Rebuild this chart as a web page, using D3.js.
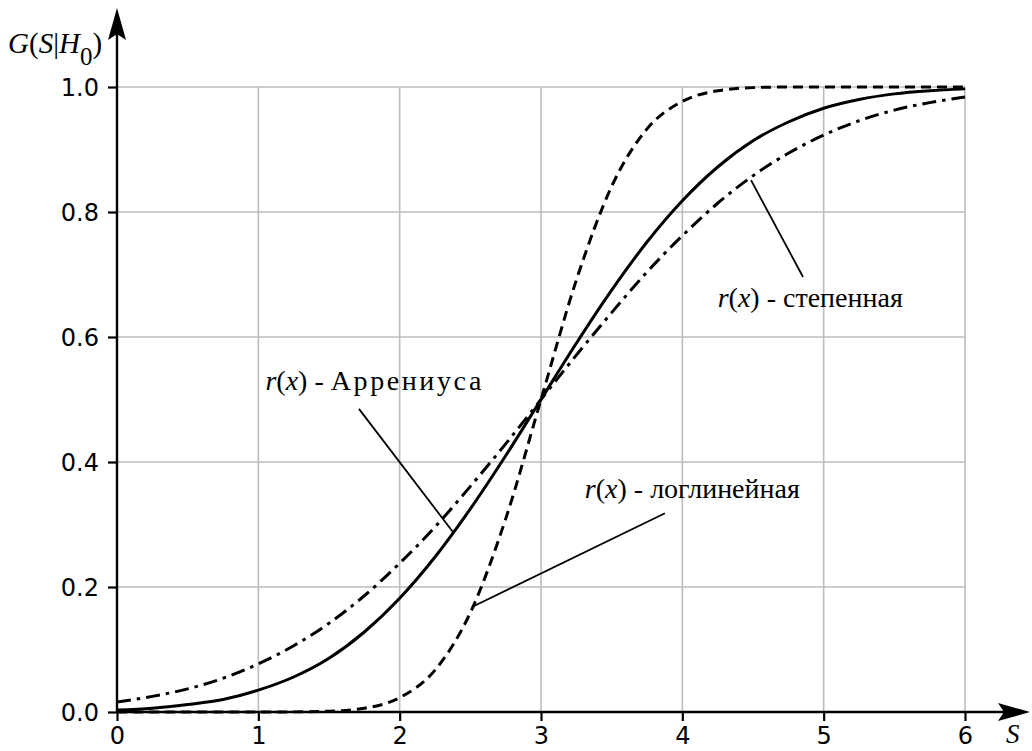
<!DOCTYPE html>
<html>
<head>
<meta charset="utf-8">
<script src="https://cdn.jsdelivr.net/npm/d3@7"></script>
<style>
  html, body { margin: 0; padding: 0; background: #fff; }
  svg { display: block; }
</style>
</head>
<body>
<svg id="chart" width="1032" height="751"></svg>
<script>
// ---- data ----
const sValues = [0, 0.25, 0.5, 0.75, 1, 1.25, 1.5, 1.75, 2, 2.25, 2.5, 2.75, 3,
                 3.25, 3.5, 3.75, 4, 4.25, 4.5, 4.75, 5, 5.25, 5.5, 5.75, 6];
// r(x) - Аррениуса (solid)
const arrhenius = [0.003, 0.006, 0.012, 0.020, 0.035, 0.056, 0.086, 0.128, 0.182, 0.248, 0.325, 0.410, 0.5,
                   0.590, 0.675, 0.752, 0.818, 0.872, 0.914, 0.944, 0.966, 0.980, 0.989, 0.994, 0.997];
// r(x) - логлинейная (dashed)
const loglinear = [0, 0, 0, 0, 0, 0.0002, 0.0013, 0.006, 0.023, 0.067, 0.159, 0.309, 0.5,
                   0.691, 0.841, 0.933, 0.977, 0.994, 0.999, 1.0, 1.0, 1.0, 1.0, 1.0, 1.0];
// r(x) - степенная (dash-dot)
const power = [0.016, 0.025, 0.037, 0.054, 0.077, 0.106, 0.142, 0.186, 0.238, 0.296, 0.361, 0.429, 0.5,
               0.571, 0.639, 0.704, 0.762, 0.814, 0.858, 0.894, 0.923, 0.946, 0.963, 0.975, 0.984];
const xTicks = [0, 1, 2, 3, 4, 5, 6];
const yTicks = [0.0, 0.2, 0.4, 0.6, 0.8, 1.0];
// annotation: label text anchor and leader line (data coords)
const annotations = [
  { name: "степенная",  spacing: 0,   tx: 4.25, ty: 0.648, x1: 4.854, y1: 0.696, x2: 4.486, y2: 0.851 },
  { name: "Аррениуса",  spacing: 2.6, tx: 1.05, ty: 0.515, x1: 1.712, y1: 0.485, x2: 2.377, y2: 0.288 },
  { name: "логлинейная", spacing: 0,  tx: 3.31, ty: 0.343, x1: 3.877, y1: 0.318, x2: 2.512, y2: 0.168 }
];

// ---- layout ----
const svg = d3.select("#chart");
const x = d3.scaleLinear().domain([0, 6]).range([117, 965]);
const y = d3.scaleLinear().domain([0, 1]).range([712, 87]);
const axisEndX = 1030, axisEndY = 8;

// grid
const grid = svg.append("g").attr("stroke", "#bdbdbd").attr("stroke-width", 1.6);
grid.selectAll(".vg").data(xTicks.filter(d => d > 0)).enter().append("line")
  .attr("x1", d => x(d)).attr("x2", d => x(d)).attr("y1", y(0)).attr("y2", y(1));
grid.selectAll(".hg").data(yTicks.filter(d => d > 0)).enter().append("line")
  .attr("x1", x(0)).attr("x2", x(6)).attr("y1", d => y(d)).attr("y2", d => y(d));

// axes via d3
const xAxis = d3.axisBottom(x).tickValues(xTicks).tickFormat(d3.format("d")).tickSize(9).tickPadding(4);
const yAxis = d3.axisLeft(y).tickValues(yTicks).tickFormat(d3.format(".1f")).tickSize(9).tickPadding(9);
const gx = svg.append("g").attr("transform", `translate(0,${y(0)})`).call(xAxis);
const gy = svg.append("g").attr("transform", `translate(${x(0)},0)`).call(yAxis);
[gx, gy].forEach(g => {
  g.select(".domain").remove();
  g.selectAll(".tick line").attr("stroke", "#000").attr("stroke-width", 2.2);
  g.selectAll(".tick text").attr("fill", "#000")
    .style("font-family", "'DejaVu Sans', sans-serif").style("font-size", "24px");
});
gx.selectAll(".tick text").attr("dy", "0.78em");
gy.selectAll(".tick text").attr("dy", "0.36em");

// axis lines with arrowheads
svg.append("line").attr("x1", x(0)).attr("x2", axisEndX - 10).attr("y1", y(0)).attr("y2", y(0))
  .attr("stroke", "#000").attr("stroke-width", 2.4);
svg.append("line").attr("x1", x(0)).attr("x2", x(0)).attr("y1", y(0)).attr("y2", axisEndY + 10)
  .attr("stroke", "#000").attr("stroke-width", 2.4);
// y arrow
svg.append("path").attr("fill", "#000")
  .attr("d", `M${x(0)},${axisEndY} L${x(0) + 9},${axisEndY + 32} L${x(0)},${axisEndY + 26} L${x(0) - 9},${axisEndY + 32} Z`);
// x arrow
svg.append("path").attr("fill", "#000")
  .attr("d", `M${axisEndX},${y(0)} L${axisEndX - 32},${y(0) - 9} L${axisEndX - 26},${y(0)} L${axisEndX - 32},${y(0) + 9} Z`);

// curves
const line = d3.line().x(d => x(d[0])).y(d => y(d[1])).curve(d3.curveMonotoneX);
const series = [
  { vals: arrhenius, dash: null },
  { vals: loglinear, dash: "10,6" },
  { vals: power, dash: "14,6,3.5,6" }
];
series.forEach(s => {
  svg.append("path")
    .datum(sValues.map((v, i) => [v, s.vals[i]]))
    .attr("d", line)
    .attr("fill", "none").attr("stroke", "#000").attr("stroke-width", 3)
    .attr("stroke-dasharray", s.dash);
});

// annotations
const serif = "'Liberation Serif', 'DejaVu Serif', serif";
annotations.forEach(a => {
  svg.append("line")
    .attr("x1", x(a.x1)).attr("y1", y(a.y1)).attr("x2", x(a.x2)).attr("y2", y(a.y2))
    .attr("stroke", "#000").attr("stroke-width", 1.8);
  const t = svg.append("text").attr("x", x(a.tx)).attr("y", y(a.ty))
    .style("font-family", serif).style("font-size", "28px");
  t.append("tspan").style("font-style", "italic").text("r");
  t.append("tspan").text("(");
  t.append("tspan").style("font-style", "italic").text("x");
  t.append("tspan").text(") - ");
  t.append("tspan").style("letter-spacing", a.spacing + "px").text(a.name);
});

// axis titles
const yl = svg.append("text").attr("x", 8).attr("y", 53)
  .style("font-family", serif).style("font-size", "29px");
yl.append("tspan").style("font-style", "italic").text("G");
yl.append("tspan").text("(");
yl.append("tspan").style("font-style", "italic").text("S");
yl.append("tspan").text("|");
yl.append("tspan").style("font-style", "italic").text("H");
yl.append("tspan").attr("dy", 12).style("font-size", "25px").text("0");
yl.append("tspan").attr("dy", -12).text(")");

svg.append("text").attr("x", 1006).attr("y", 743)
  .style("font-family", serif).style("font-size", "27px").style("font-style", "italic").text("S");
</script>
</body>
</html>
